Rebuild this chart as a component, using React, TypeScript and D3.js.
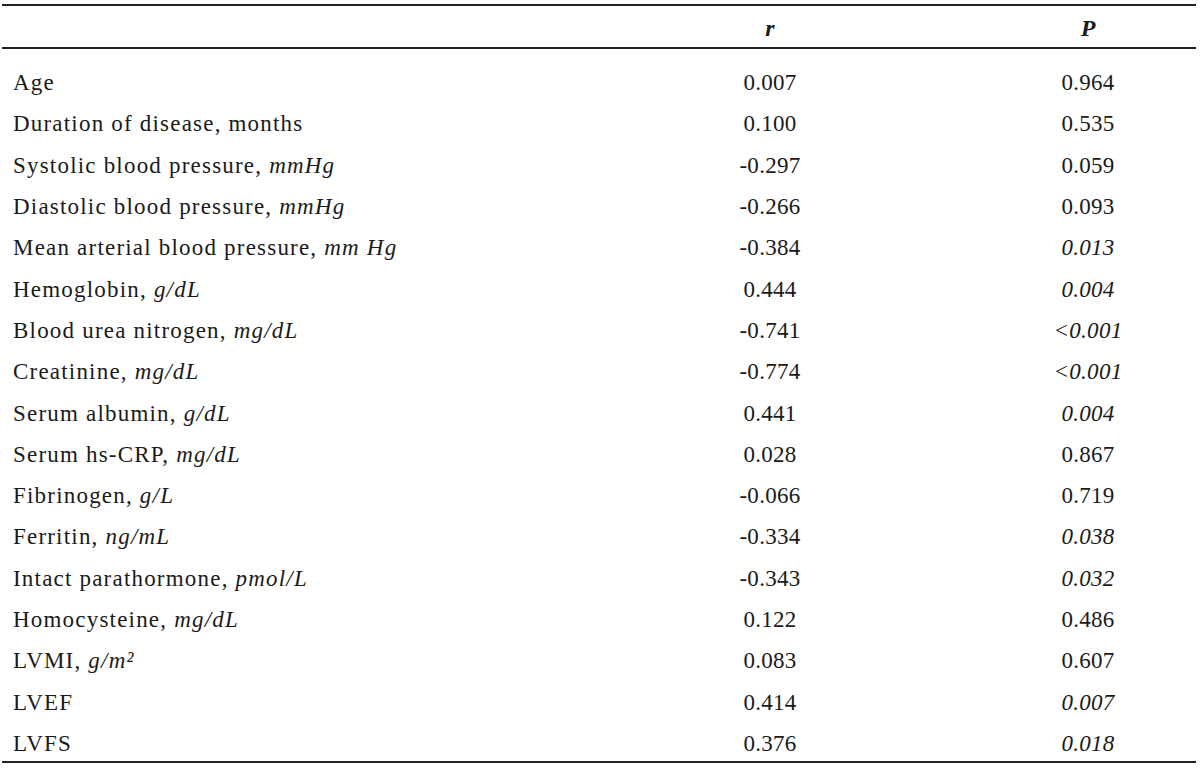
import { useRef, useEffect } from 'react';
import * as d3 from 'd3';

// row labels: plain part + italic unit
const LABELS = [
  'Age',
  'Duration of disease, months',
  'Systolic blood pressure, ',
  'Diastolic blood pressure, ',
  'Mean arterial blood pressure, ',
  'Hemoglobin, ',
  'Blood urea nitrogen, ',
  'Creatinine, ',
  'Serum albumin, ',
  'Serum hs-CRP, ',
  'Fibrinogen, ',
  'Ferritin, ',
  'Intact parathormone, ',
  'Homocysteine, ',
  'LVMI, ',
  'LVEF',
  'LVFS',
];
const UNITS = ['', '', 'mmHg', 'mmHg', 'mm Hg', 'g/dL', 'mg/dL', 'mg/dL', 'g/dL', 'mg/dL', 'g/L', 'ng/mL', 'pmol/L', 'mg/dL', 'g/m²', '', ''];
const R_VALUES = ['0.007', '0.100', '-0.297', '-0.266', '-0.384', '0.444', '-0.741', '-0.774', '0.441', '0.028', '-0.066', '-0.334', '-0.343', '0.122', '0.083', '0.414', '0.376'];
const P_VALUES = ['0.964', '0.535', '0.059', '0.093', '0.013', '0.004', '<0.001', '<0.001', '0.004', '0.867', '0.719', '0.038', '0.032', '0.486', '0.607', '0.007', '0.018'];
const P_ITALIC = [false, false, false, false, true, true, true, true, true, false, false, true, true, false, false, true, true];
const COLUMNS = ['', 'r', 'P'];

export default function App() {
  const ref = useRef<SVGSVGElement>(null);

  useEffect(() => {
    const svg = ref.current;
    if (!svg) return;
    const W = 1200, H = 768;
    const font = '"Liberation Serif", "Times New Roman", serif';
    const fs = 23;
    const ink = '#1a1a1a';

    d3.select(svg).selectAll('*').remove();
    const g = d3.select(svg).attr('viewBox', `0 0 ${W} ${H}`).attr('width', W).attr('height', H).append('g');

    const x = d3.scaleOrdinal<string, number>().domain(COLUMNS).range([13, 770, 1088]);
    const y = d3.scaleLinear().domain([0, LABELS.length - 1]).range([90, 751]);

    // rules
    const rule = (yy: number) =>
      g.append('line').attr('x1', 2).attr('x2', 1196).attr('y1', yy).attr('y2', yy)
        .attr('stroke', '#222').attr('stroke-width', 2.2);
    rule(5);
    rule(48);
    rule(762);

    // header
    ['r', 'P'].forEach((c) => {
      g.append('text').attr('x', x(c)).attr('y', 36).attr('text-anchor', 'middle')
        .attr('font-family', font).attr('font-size', 24).attr('font-weight', 'bold').attr('font-style', 'italic')
        .attr('fill', ink).text(c);
    });

    LABELS.forEach((lab, i) => {
      const t = g.append('text').attr('x', x('')).attr('y', y(i))
        .attr('font-family', font).attr('font-size', fs).attr('letter-spacing', 1.2).attr('fill', ink);
      t.append('tspan').text(lab);
      if (UNITS[i]) t.append('tspan').attr('font-style', 'italic').text(UNITS[i]);

      g.append('text').attr('x', x('r')).attr('y', y(i)).attr('text-anchor', 'middle')
        .attr('font-family', font).attr('font-size', fs).attr('letter-spacing', 0.3).attr('fill', ink).text(R_VALUES[i]);

      g.append('text').attr('x', x('P')).attr('y', y(i)).attr('text-anchor', 'middle')
        .attr('font-family', font).attr('font-size', fs).attr('letter-spacing', 0.3).attr('fill', ink)
        .attr('font-style', P_ITALIC[i] ? 'italic' : 'normal').text(P_VALUES[i]);
    });
  }, []);

  return (
    <div style={{ position: 'absolute', left: 0, top: 0, background: '#fff' }}>
      <svg ref={ref} style={{ display: 'block' }} />
    </div>
  );
}
